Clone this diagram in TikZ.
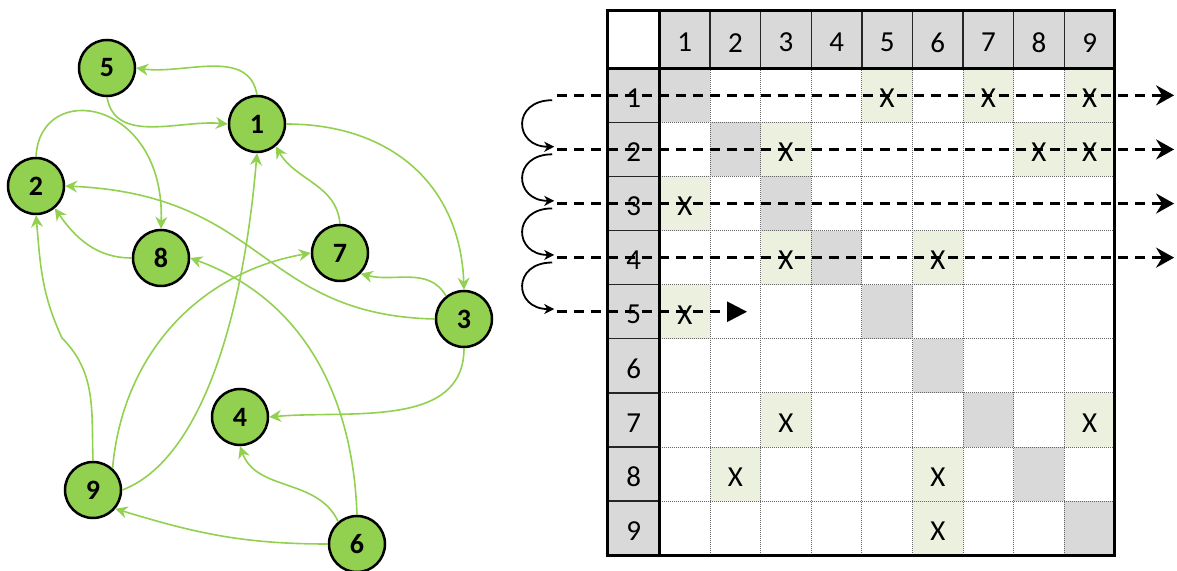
\documentclass[tikz,border=0pt]{standalone}
\usepackage{fontspec}
\setmainfont{Carlito}
\usetikzlibrary{arrows.meta}
\definecolor{nodeGreen}{RGB}{146,208,80}
\definecolor{edgeGreen}{RGB}{146,208,80}
\definecolor{cellGray}{RGB}{217,217,217}
\definecolor{markGreen}{RGB}{235,241,222}

\begin{document}
\begin{tikzpicture}[x=1pt,y=1pt,
  vertex/.style={circle,draw=black,line width=2.5pt,fill=nodeGreen,minimum size=56pt,inner sep=0pt,font=\fontsize{28}{28}\selectfont\bfseries},
  gedge/.style={edgeGreen,line width=1.6pt,-{Stealth[length=12pt,width=12pt,inset=4pt]}},
  tabtext/.style={font=\fontsize{29}{29}\selectfont,yshift=-3pt},
  dotline/.style={black!60,line width=0.9pt,dash pattern=on 0.9pt off 1.1pt},
  sepline/.style={black!85,line width=1.4pt},
  frameline/.style={black,line width=3pt},
  scanline/.style={black,line width=2.6pt,dash pattern=on 10pt off 7pt},
  rowjump/.style={black,line width=1.8pt,-{Stealth[length=10pt,width=10pt,inset=3pt]}},
]
\useasboundingbox (0,0) rectangle (1177,570);

\node[vertex] (n5) at (107,502) {5};
\node[vertex] (n1) at (257,446) {1};
\node[vertex] (n2) at (36,384) {2};
\node[vertex] (n8) at (161,312) {8};
\node[vertex] (n7) at (340,317) {7};
\node[vertex] (n3) at (464,251) {3};
\node[vertex] (n4) at (240,153) {4};
\node[vertex] (n9) at (93,80) {9};
\node[vertex] (n6) at (357,26) {6};

\draw[gedge] (n1.north) to[out=100,in=-8] (n5.east);
\draw[gedge] (n5.south) to[out=-80,in=175] (n1.west);
\draw[gedge] (n1.east) to[out=0,in=92,looseness=1.1] (n3.north);
\draw[gedge] (n2.north) .. controls +(4,78) and +(4,130) .. (n8.north);
\draw[gedge] (n8.west) to[out=180,in=-55] (n2.-50);
\draw[gedge] (n3.west) .. controls +(-176,4) and +(201,-9) .. (n2.east);
\draw[gedge] (n3.128) to[out=120,in=-15] (n7.-45);
\draw[gedge] (n7.north) to[out=95,in=-60] (n1.-50);
\draw[gedge] (n9.east) .. controls +(74,28) and +(-15,-178) .. (n1.south);
\draw[gedge] (n9.48) to[out=85,in=190] (n7.west);
\draw[gedge] (n9.north) to[out=92,in=-45] (62,232) to[out=115,in=-85] (n2.south);
\draw[gedge] (n6.north) to[out=92,in=-20] (n8.east);
\draw[gedge] (n6.130) to[out=115,in=-70] (n4.south);
\draw[gedge] (n6.west) to[out=180,in=-17] (n9.-40);
\draw[gedge] (n3.south) to[out=-90,in=5] (n4.east);

\begin{scope}[shift={(659.5,501.7)},x=50.6pt,y=-54.1pt]
  \fill[cellGray] (0,0) rectangle (9,-1.06);
  \fill[cellGray] (-1.02,0) rectangle (0,9);
  \foreach \k in {1,...,9} \fill[cellGray] (\k-1,\k-1) rectangle (\k,\k);
  \foreach \row/\col in {1/5,1/7,1/9,2/3,2/8,2/9,3/1,4/3,4/6,5/1,7/3,7/9,8/2,8/6,9/6}
    \fill[markGreen] (\col-1,\row-1) rectangle (\col,\row);
  \foreach \k in {1,...,8} {
    \draw[dotline] (\k,0) -- (\k,9);
    \draw[dotline] (0,\k) -- (9,\k);
    \draw[sepline] (\k,0) -- (\k,-1.06);
    \draw[sepline] (-1.02,\k) -- (0,\k);
  }
  \draw[frameline] (-1.02,-1.06) rectangle (9,9);
  \draw[frameline] (-1.02,0) -- (9,0);
  \draw[frameline] (0,-1.06) -- (0,9);
  \foreach \k in {1,...,9} {
    \node[tabtext] (h\k) at (\k-0.5,-0.53) {\k};
    \node[tabtext] (r\k) at (-0.51,\k-0.5) {\k};
  }
  \foreach \row/\col in {1/5,1/7,1/9,2/3,2/8,2/9,3/1,4/3,4/6,5/1,7/3,7/9,8/2,8/6,9/6}
    \node[tabtext] (x\row\col) at (\col-0.5,\row-0.5) {X};

  \foreach \k in {1,...,5} \coordinate (s\k) at (-2.03,\k-0.5);
  \foreach \k in {1,...,4} {
    \coordinate (e\k) at (10.17,\k-0.5);
    \draw[scanline,-{Stealth[length=18pt,width=20pt,inset=6pt]}] (s\k) -- (e\k);
  }
  \coordinate (e5) at (1.73,4.5);
  \draw[scanline,-{Triangle[length=20pt,width=20pt]}] (s5) -- (e5);
  \foreach \k in {1,...,4} {
    \coordinate (a\k) at (-2.12,\k-0.41);
    \coordinate (b\k) at (-2.08,\k+0.45);
    \draw[rowjump] (a\k) .. controls +(-0.8,0) and +(-0.8,0) .. (b\k);
  }
\end{scope}
\end{tikzpicture}
\end{document}
